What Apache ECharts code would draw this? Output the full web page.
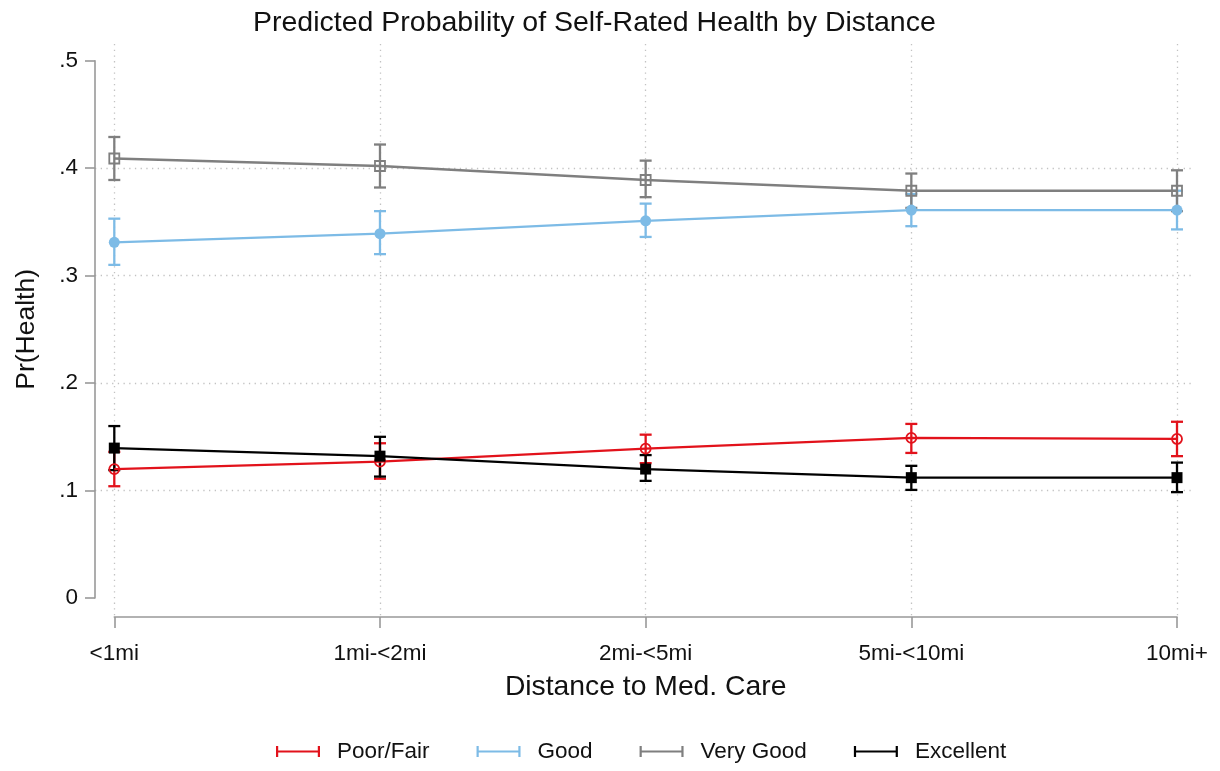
<!DOCTYPE html>
<html>
<head>
<meta charset="utf-8">
<script src="https://cdn.jsdelivr.net/npm/echarts@6/dist/echarts.min.js"></script>
<style>
  html, body { margin: 0; padding: 0; background: #fff; }
  #chart { width: 1220px; height: 771px; }
</style>
</head>
<body>
<div id="chart"></div>
<script>
const categories = ['<1mi', '1mi-<2mi', '2mi-<5mi', '5mi-<10mi', '10mi+']
const yTicks = [0, 0.1, 0.2, 0.3, 0.4, 0.5]

const poorEst = [0.120, 0.127, 0.139, 0.149, 0.148]
const poorLo = [0.104, 0.111, 0.1255, 0.135, 0.132]
const poorHi = [0.136, 0.144, 0.152, 0.162, 0.164]

const goodEst = [0.331, 0.339, 0.351, 0.361, 0.361]
const goodLo = [0.310, 0.320, 0.336, 0.346, 0.343]
const goodHi = [0.353, 0.360, 0.367, 0.376, 0.379]

const vgoodEst = [0.409, 0.402, 0.389, 0.379, 0.379]
const vgoodLo = [0.389, 0.382, 0.373, 0.363, 0.360]
const vgoodHi = [0.429, 0.422, 0.407, 0.395, 0.398]

const excEst = [0.1395, 0.132, 0.120, 0.112, 0.112]
const excLo = [0.119, 0.113, 0.109, 0.1006, 0.0985]
const excHi = [0.160, 0.150, 0.133, 0.123, 0.126]

const font = "'Liberation Sans', Arial, Helvetica, sans-serif"
const axisGray = '#999999'
const gridGray = '#c2c2c2'

// name, estimates, bounds, colour, marker
const groups = [
    { name: 'Poor/Fair', est: poorEst, lo: poorLo, hi: poorHi, color: '#e2121b', symbol: 'circle', size: 10, hollow: true },
    { name: 'Good', est: goodEst, lo: goodLo, hi: goodHi, color: '#7dbbe6', symbol: 'circle', size: 11, hollow: false },
    { name: 'Very Good', est: vgoodEst, lo: vgoodLo, hi: vgoodHi, color: '#7f7f7f', symbol: 'rect', size: 10, hollow: true },
    { name: 'Excellent', est: excEst, lo: excLo, hi: excHi, color: '#000000', symbol: 'rect', size: 11, hollow: false }
]

const capIcon = 'path://M0,0h2.2v11h-2.2z M41.8,0h2.2v11h-2.2z M0,4.4h44v2.2h-44z'

const ciSeries = groups.map(g => ({
    name: g.name,
    type: 'custom',
    xAxisIndex: 2,
    yAxisIndex: 2,
    z: 3,
    itemStyle: { color: g.color },
    renderItem: function (params, api) {
        const i = api.value(0)
        const top = api.coord([i, api.value(2)])
        const bot = api.coord([i, api.value(1)])
        const w = 6
        const style = { stroke: g.color, lineWidth: 2.3 }
        return {
            type: 'group',
            children: [
                { type: 'line', shape: { x1: top[0], y1: top[1], x2: bot[0], y2: bot[1] }, style },
                { type: 'line', shape: { x1: top[0] - w, y1: top[1], x2: top[0] + w, y2: top[1] }, style },
                { type: 'line', shape: { x1: bot[0] - w, y1: bot[1], x2: bot[0] + w, y2: bot[1] }, style }
            ]
        }
    },
    data: categories.map((c, i) => [i, g.lo[i], g.hi[i]])
}))

const lineSeries = groups.map(g => ({
    name: g.name,
    type: 'line',
    xAxisIndex: 2,
    yAxisIndex: 2,
    z: 4,
    symbol: g.symbol,
    symbolSize: g.size,
    showAllSymbol: true,
    lineStyle: { color: g.color, width: 2.3 },
    itemStyle: g.hollow
        ? { color: 'rgba(255,255,255,0)', borderColor: g.color, borderWidth: 1.8 }
        : { color: g.color, borderWidth: 0 },
    data: g.est
}))

const chart = echarts.init(document.getElementById('chart'), null, { renderer: 'canvas' })
chart.setOption({
    animation: false,
    backgroundColor: '#fff',
    textStyle: { fontFamily: font },
    title: {
        text: 'Predicted Probability of Self-Rated Health by Distance',
        left: 248,
        top: 4,
        textStyle: { fontFamily: font, fontSize: 28.5, fontWeight: 'normal', color: '#111' }
    },
    legend: {
        left: 276,
        top: 740,
        padding: 0,
        itemWidth: 44,
        itemHeight: 11,
        itemGap: 47,
        textStyle: { fontFamily: font, fontSize: 22.5, color: '#111', padding: [0, 0, 0, 12] },
        data: groups.map(g => ({
            name: g.name,
            icon: capIcon,
            itemStyle: { color: g.color, borderWidth: 0 }
        }))
    },
    grid: [
        { left: 95, right: 25, top: 60.7, bottom: 173 },
        { left: 114.3, right: 43, top: 44, bottom: 154 },
        { left: 114.3, right: 43, top: 60.7, bottom: 173 }
    ],
    xAxis: [
        { gridIndex: 0, type: 'value', min: 0, max: 1, show: false },
        {
            gridIndex: 1,
            type: 'category',
            boundaryGap: false,
            data: categories,
            name: 'Distance to Med. Care',
            nameLocation: 'middle',
            nameGap: 56,
            nameTextStyle: { fontFamily: font, fontSize: 28.3, color: '#111' },
            axisLine: { show: true, lineStyle: { color: axisGray, width: 1.6 } },
            axisTick: { show: true, length: 11, alignWithLabel: true, lineStyle: { color: axisGray, width: 1.6 } },
            axisLabel: { margin: 25, fontFamily: font, fontSize: 22.5, color: '#111', interval: 0 },
            splitLine: { show: true, lineStyle: { color: gridGray, width: 1.3, type: [1.3, 4.4] } }
        },
        { gridIndex: 2, type: 'category', boundaryGap: false, data: categories, show: false }
    ],
    yAxis: [
        {
            gridIndex: 0,
            type: 'value',
            min: 0,
            max: 0.5,
            interval: 0.1,
            name: 'Pr(Health)',
            nameLocation: 'middle',
            nameGap: 55,
            nameTextStyle: { fontFamily: font, fontSize: 26.5, color: '#111' },
            axisLine: { show: true, lineStyle: { color: axisGray, width: 1.6 } },
            axisTick: { show: true, length: 10, lineStyle: { color: axisGray, width: 1.6 } },
            axisLabel: {
                margin: 17,
                fontFamily: font,
                fontSize: 22.5,
                color: '#111',
                formatter: v => yTicks.indexOf(v) === 0 ? '0' : v.toFixed(1).replace(/^0/, '')
            },
            splitLine: {
                show: true,
                showMinLine: false,
                showMaxLine: false,
                lineStyle: { color: gridGray, width: 1.3, type: [1.3, 4.4] }
            }
        },
        { gridIndex: 1, type: 'value', min: 0, max: 1, show: false },
        { gridIndex: 2, type: 'value', min: 0, max: 0.5, show: false }
    ],
    series: [...ciSeries, ...lineSeries]
})
</script>
</body>
</html>
